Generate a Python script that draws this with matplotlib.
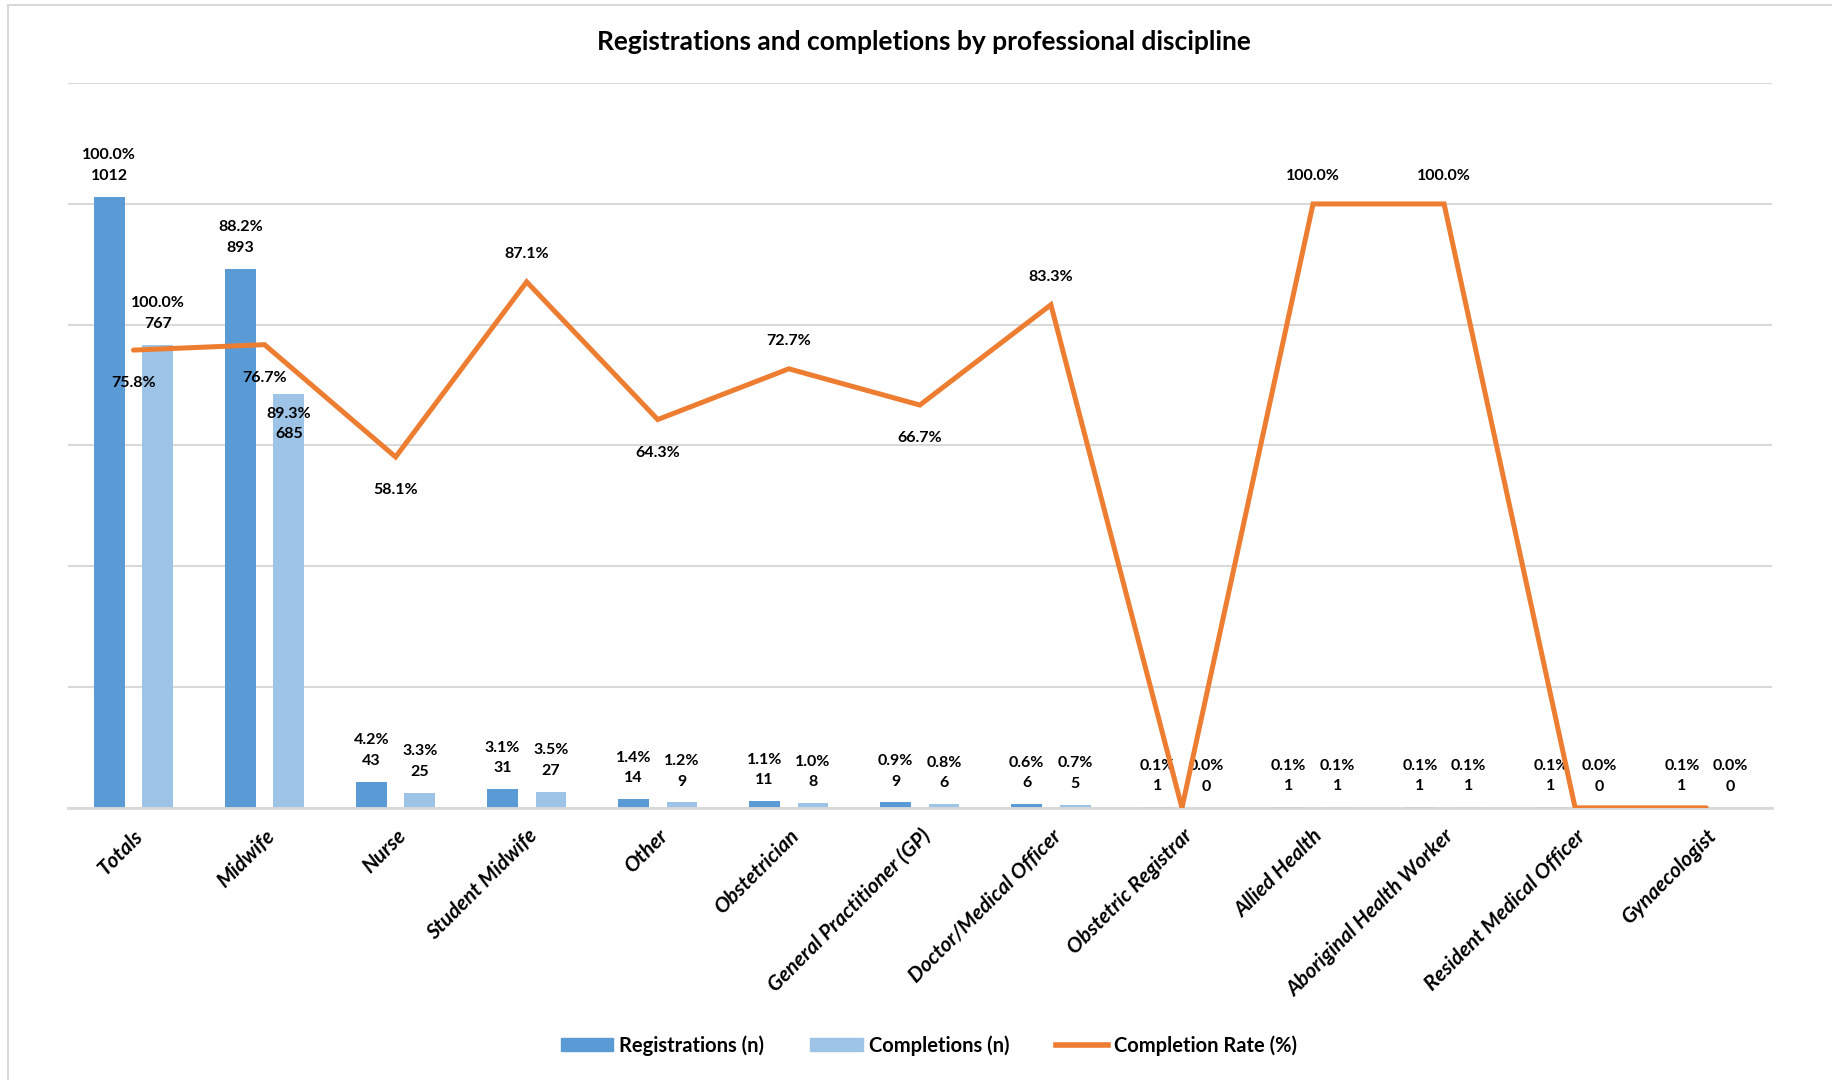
import numpy as np
import matplotlib.pyplot as plt
from matplotlib.patches import Patch
from matplotlib.lines import Line2D

plt.rcParams['font.family'] = ['Lato', 'DejaVu Sans']

# ---- data ----
categories = ['Totals', 'Midwife', 'Nurse', 'Student Midwife', 'Other', 'Obstetrician',
              'General Practitioner (GP)', 'Doctor/Medical Officer', 'Obstetric Registrar',
              'Allied Health', 'Aboriginal Health Worker', 'Resident Medical Officer',
              'Gynaecologist']
registrations = [1012, 893, 43, 31, 14, 11, 9, 6, 1, 1, 1, 1, 1]
completions = [767, 685, 25, 27, 9, 8, 6, 5, 0, 1, 1, 0, 0]
reg_share = [100.0, 88.2, 4.2, 3.1, 1.4, 1.1, 0.9, 0.6, 0.1, 0.1, 0.1, 0.1, 0.1]
comp_share = [100.0, 89.3, 3.3, 3.5, 1.2, 1.0, 0.8, 0.7, 0.0, 0.1, 0.1, 0.0, 0.0]
rate = [75.8, 76.7, 58.1, 87.1, 64.3, 72.7, 66.7, 83.3, 0.0, 100.0, 100.0, 0.0, 0.0]
# label above (1) or below (-1) the line point, 0 = no label
rate_label_pos = [-1, -1, -1, 1, -1, 1, -1, 1, 0, 1, 1, 0, 0]
# completion labels drawn inside the bar (Excel moved this one)
comp_inside = [False, True] + [False] * 11

c_reg = '#5B9BD5'
c_comp = '#9DC3E6'
c_rate = '#ED7D31'
c_grid = '#D9D9D9'

fig = plt.figure(figsize=(18.32, 10.8), dpi=100)
ax = fig.add_axes([0.0371, 0.252, 0.93, 0.671])
ax2 = ax.twinx()

x = np.arange(len(categories))
w = 0.235
off = 0.185

ax.bar(x - off, registrations, w, color=c_reg, zorder=2)
ax.bar(x + off, completions, w, color=c_comp, zorder=2)

ax.set_ylim(0, 1200)
ax.set_xlim(-0.5, len(categories) - 0.5)
ax.set_yticks(np.arange(0, 1201, 200))
ax.yaxis.grid(True, color=c_grid, lw=1.5, zorder=0)
ax.set_axisbelow(True)
ax.tick_params(axis='y', left=False, labelleft=False)
ax.tick_params(axis='x', length=0, pad=13)
for s in ['top', 'right', 'left']:
    ax.spines[s].set_visible(False)
ax.spines['bottom'].set_color(c_grid)
ax.spines['bottom'].set_linewidth(2)

ax.set_xticks(x)
ax.set_xticklabels(categories, rotation=45, ha='right', va='top',
                   rotation_mode='anchor', fontsize=15, fontweight='bold',
                   fontstyle='italic')

lbl_kw = dict(ha='center', fontsize=11.5, fontweight='bold',
              linespacing=1.6, textcoords='offset points')
for i in range(len(categories)):
    ax.annotate(f'{reg_share[i]:.1f}%\n{registrations[i]}', (x[i] - off, registrations[i]),
                xytext=(0, 10), va='bottom', **lbl_kw)
    if comp_inside[i]:
        ax.annotate(f'{comp_share[i]:.1f}%\n{completions[i]}', (x[i] + off, completions[i]),
                    xytext=(0, -9), va='top', **lbl_kw)
    else:
        ax.annotate(f'{comp_share[i]:.1f}%\n{completions[i]}', (x[i] + off, completions[i]),
                    xytext=(0, 10), va='bottom', **lbl_kw)

rate_frac = [r / 100 for r in rate]
ax2.plot(x, rate_frac, color=c_rate, lw=3.6, solid_capstyle='round',
         solid_joinstyle='miter', zorder=3)
ax2.set_ylim(0, 1.2)
ax2.axis('off')
for i in range(len(categories)):
    if rate_label_pos[i] == 0:
        continue
    dy = 20 if rate_label_pos[i] > 0 else -24
    ax2.annotate(f'{rate[i]:.1f}%', (x[i], rate_frac[i]), xytext=(0, dy),
                 textcoords='offset points', ha='center', va='center',
                 fontsize=11.5, fontweight='bold')

fig.text(0.5045, 0.961, 'Registrations and completions by professional discipline',
         ha='center', va='center', fontsize=19, fontweight='bold')

# chart border (left and top edges)
fig.add_artist(Line2D([0.0045, 0.0045], [0, 0.9955], color=c_grid, lw=1.5))
fig.add_artist(Line2D([0.0045, 1], [0.9955, 0.9955], color=c_grid, lw=1.5))

handles = [Patch(color=c_reg, label='Registrations (n)'),
           Patch(color=c_comp, label='Completions (n)'),
           Line2D([0], [0], color=c_rate, lw=4, label='Completion Rate (%)')]
fig.legend(handles=handles, loc='center', bbox_to_anchor=(0.507, 0.032), ncol=3,
           frameon=False, handlelength=2.6, handleheight=0.6, columnspacing=2.3,
           handletextpad=0.3, prop={'weight': 'bold', 'size': 14.5})

fig.savefig('out.png', dpi=100)
